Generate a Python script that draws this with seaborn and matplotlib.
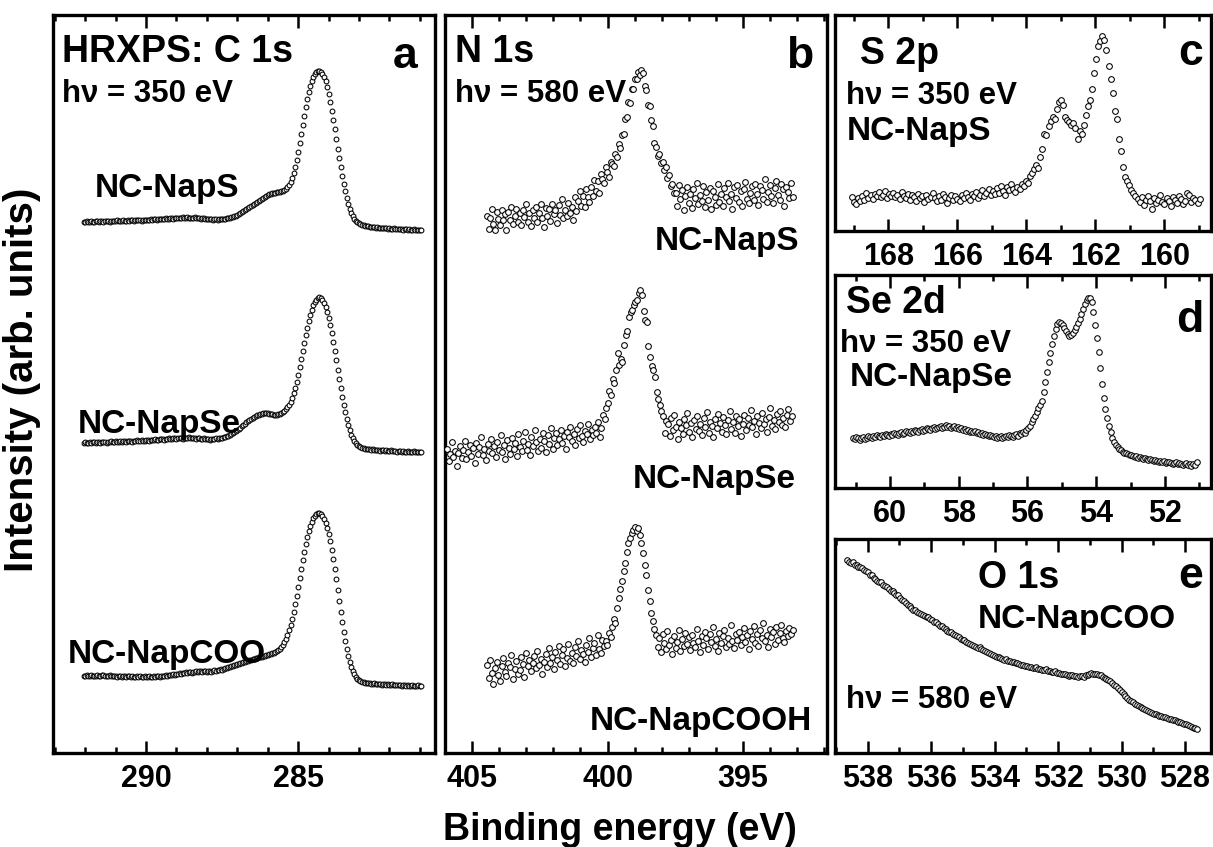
import numpy as np
import matplotlib
matplotlib.use('Agg')
import matplotlib.pyplot as plt
from matplotlib.ticker import MultipleLocator
import seaborn as sns

W, H = 1213, 847

# ---- C 1s (panel a), 292.05 -> 280.95 eV ----
c1s_range = (292.05, 280.95)
c1s_napS = [11,11,12,11,11,12,11,11,12,12, 11,12,12,11,12,12,12,11,12,12, 12,12,13,12,12,12,13,12,12,13,
            12,13,13,12,13,13,13,13,12,13, 13,13,
            13,13,14,13,14,14,13,14,14,14, 14,14,15,14,14,15,15,14,15,15, 15,15,15,16,15,15,16,15,15,15,
            15,16,15,15,15,14,15,15,14,14, 14,14,14,13,14,14,13,14,14,14, 14,14,15,15,15,16,16,17,17,
            18,19,20,21,22,23,24,25,26,27, 28,29,30,31,32,33,34,35,36,37, 38,39,39,40,40,40,41,41,41,42,
            42,43,44,46,48,
            51,55,60,66,73,81,90,99,108,117, 126,134,141,147,152,156,159,161,162,162,161,
            159,156,152,146,139,131,122,113,104,94, 84,75,66,57,49,42,35,29,24,20, 17,14,12,11,10,9,8,8,7,7,
            7,6,6,6,6,5,6,5,5,5, 5,5,5,4,5,4,4,5,4,4, 4,4,4,3,4,4,3,4,3,3, 4,3,3,3,3,3]
c1s_napSe = [10,11,10,10,11,10,11,11,10,11, 11,10,11,11,11,10,11,11,12,11, 11,12,11,11,12,11,12,12,11,12,
             12,12,11,12,12,13,12,12,13,12, 12,13,
             13,12,13,13,13,14,13,13,14,14, 14,13,14,14,15,14,14,15,15,14, 15,15,15,14,15,15,15,16,15,15,
             15,15,14,15,15,14,14,15,14,14, 14,13,14,14,14,15,14,15,15,15, 16,16,17,17,18,19,20,21,22,
             23,24,25,27,28,29,31,32,33,34, 35,36,37,38,38,39,39,40,40,40, 40,39,39,39,38,38,38,39,39,40,
             41,42,44,46,48,
             51,55,60,65,71,78,86,94,102,110, 118,125,132,138,143,148,151,153,155,156,155,
             153,150,146,141,135,128,120,111,102,93, 83,74,65,56,48,41,34,28,23,18, 15,12,10,8,7,6,5,5,4,4,
             4,4,3,4,3,3,3,3,2,3, 3,2,3,2,2,3,2,2,2,1, 2,2,1,2,1,1,2,1,1,1, 2,1,1,1,1,1]
c1s_napCOO = [12,12,13,12,12,13,12,12,12,13, 12,12,13,13,12,12,12,13,12,12, 12,12,11,12,12,11,12,12,11,12,
              12,11,12,11,11,12,11,12,11,11, 12,11,
              11,12,11,11,12,11,12,12,11,12, 12,12,13,12,13,13,13,14,13,14, 14,15,14,15,15,16,15,16,16,15,
              16,16,17,16,17,17,16,17,17,16, 17,17,16,17,18,17,18,18,19,18, 19,20,20,21,21,22,22,23,23,
              24,24,25,25,26,26,27,27,28,28, 29,29,30,30,31,31,31,32,32,33, 33,34,34,35,35,36,37,38,39,41,
              43,46,49,53,58,
              63,69,76,84,92,101,110,119,128,136, 144,151,157,162,166,170,172,174,175,175,174,
              172,169,165,160,154,147,138,129,119,109, 98,87,76,66,56,47,39,32,26,21, 17,14,11,9,8,7,6,6,5,5,
              5,5,4,4,5,4,4,4,4,3, 4,4,3,4,3,3,4,3,3,3, 3,3,2,3,3,2,3,2,2,3, 2,2,2,3,2,2]
c1s_offsets = [520, 300, 65]

# ---- N 1s (panel b) ----
n1s_napS_range = (404.45, 393.17)
n1s_napS = [17,4,15,24,9,3,21,14,8,23, 13,19,3,21,13,26,9,17,24,11, 20,8,23,16,29,11,20,7,23,15,
            26,11,20,29,15,6,25,17,24,12, 29,19,23,10,28,18,34,15,23,17, 30,20,26,13,
            36,22,32,42,27,37,26,44,36,31, 46,37,53,42,52,40,59,54,50,66, 61,56,71,69,67,79,76,89,85,98,
            99,114,116,131,130,144,144,154,154,161,158,163,
            160,147,143,128,127,113,107,90,86,77, 79,70,71,63,66,55,58,47,49,40,
            40,27,48,34,43,23,37,46,30,39, 25,44,35,50,29,38,32,47,26,41, 33,45,24,42,36,28,49,31,39,27,
            45,36,50,32,39,24,46,35,48,31, 42,27,44,51,34,30,40,47,33,49,
            39,28,47,43,34,54,31,41,48,37, 30,45,52,38,33,49,44,27,46,41, 35,50,36]
n1s_napSe_range = (405.93, 393.21)
n1s_napSe = [14,2,9,21,6,12,-3,10,17,5, 13,22,4,11,18,7,15,0,20,9, 16,26,8,14,3,19,12,24,10,17,
             6,21,13,28,11,18,4,23,15,9, 25,14,20,7,29,16,12,22,31,13, 19,8,26,17,33,21,12,24,15,30,
             22,11,28,19,35,14,25,30,18,24, 33,20,27,14,31,26,36,22,29,18, 34,25,38,27,21,32,29,39,24,33,
             28,36,30,41,26,35,
             48,44,55,60,72,68,84,80,93,110, 98,104,101,118,128,132,146,151,153,158, 161,163,170,173,168,
             152,143,141,117,106,97,93,86,71,64,58,52,47,
             30,42,39,27,45,33,48,36,24,41, 35,29,44,38,50,31,40,26,43,34, 47,32,39,28,45,36,51,30,41,37,
             26,44,35,49,40,31,46,38,29,43, 52,34,41,30,47,37,44,27,39,48, 33,45,38,53,36,42,29,47,40,35,
             50,39,44,31,46,55,37,43,34,49, 41,52,38,45,36,48,54,42,47]
n1s_napCOOH_range = (404.45, 393.17)
n1s_napCOOH = [28,15,33,20,9,25,31,18,12,27, 35,21,17,30,26,38,14,24,32,19, 23,36,29,16,40,27,33,22,30,37,
               25,42,28,34,19,31,39,26,45,30, 36,24,41,33,47,29,38,44,27,35, 49,32,40,30,46,37,52,34,43,39,
               31,48,41,55,36,45,50,38,58,44,40,53,47,
               52,48,60,56,66,74,70,85,95,104, 112,122,130,141,150,155,160,163,166,162,
               165,158,150,140,128,118,103,92,80,72,64,58,
               46,55,41,59,50,44,62,48,53,39, 57,45,51,63,42,54,47,60,49,56, 43,58,50,46,64,52,41,57,48,61,
               55,44,59,51,66,47,54,42,60,50, 57,63,46,55,49,68,52,45,59,53, 61,48,56,65,51,58,44,62,54,67,
               50,59,47,63,55,70,52,58,46,64, 56,61,49,66,53,60,68,55,51,62,57,65,59,63]
n1s_offsets = [520, 290, 60]

# ---- S 2p (panel c) ----
s2p_range = (169.06, 158.98)
s2p_napS = [34,29,27,33,30,35,31,38,33,36, 32,37,35,39,34,36,40,33,37,35, 38,34,36,32,39,35,33,37,31,36,
            34,30,37,33,35,29,36,32,34,38, 33,30,35,31,37,34,28,33,36,31, 35,32,30,36,33,38,34,31,37,35,
            39,33,36,41,35,38,42,36,40,37, 43,38,45,40,36,44,41,47,42,39,
            44,42,47,45,50,48,55,58,62,66, 63,74,82,97,96,105,110,114,112,122, 129,131,126,114,111,109,106,108,103,92,
            100,97,106,116,125,131,142,158,172,185, 190,195,191,181,165,152,138,120,112,92, 80,64,54,50,46,41,38,35,
            32,29,34,26,31,35,30,22,33,28, 31,36,29,27,33,30,25,34,31,28, 35,32,27,30,38,36,29,33,31,28,32]

# ---- Se (panel d) ----
se_range = (61.08, 51.08)
se_napSe = [50,49,51,50,48,50,51,49,50,52, 51,50,52,51,53,52,51,53,52,54, 53,52,54,53,55,54,53,55,56,54,
            55,57,56,55,57,56,58,57,56,58, 59,57,58,60,59,58,60,61,59,60, 61,62,60,61,63,61,62,60,61,62,
            60,61,59,60,58,59,57,58,56,57, 56,57,55,56,54,55,53,54,53,52, 53,52,51,52,50,51,52,50,51,52,
            51,53,52,51,53,54,52,55,54,56, 55,58,
            60,62,66,69,72,76,80,83,87,96, 106,116,126,135,144,152,159,164,166,165, 163,160,157,154,152,153,155,158,161,165,
            169,174,179,184,188,190,190,186,176,163, 150,136,120,104,90,79,70,62,56,50,46,
            43,41,39,38,36,35,35,34,33,33, 32,31,32,30,31,30,29,30,29,28, 29,28,27,28,27,26,27,26,27,25,
            26,26,25,24,25,26,24,25,24,23, 24,25,23,24,22,24,23,26]

# ---- O 1s (panel e) ----
o1s_range = (538.65, 527.61)
o1s_napCOO = [193,191,190,191,188,188,186,186,185,183, 182,181,178,178,175,174,172,171,171,168,
              167,166,164,162,162,160,158,158,155,153, 152,150,148,147,145,143,143,141,140,139,
              138,137,136,136,134,133,131,131,129,127, 127,125,124,122,121,121,119,118,117,116,
              114,113,113,111,110,109,108,107,106,105, 106,104,103,102,101,100,99,98,97,96,
              96,95,94,93,94,92,92,91,91,90, 90,89,88,88,87,87,86,86,85,85,
              86,84,84,83,83,84,82,82,81,81, 82,80,80,79,79,79,78,77,78,78,
              77,77,76,77,77,76,78,78,79,80, 79,79,79,78,78,76,75,74,73,72,
              70,68,67,65,63,61,59,57,55,53, 52,51,49,48,47,46,45,44,43,42,
              41,40,39,39,38,37,37,36,36,35, 34,34,33,33,32,31,31,30,29,29,
              28,27,26,25,25,24]


def spectrum(ax, e_range, values, offset, size):
    energy = np.linspace(e_range[0], e_range[1], len(values))
    sns.scatterplot(x=energy, y=np.array(values) + offset, ax=ax, marker='o', s=size,
                    color='white', edgecolor='black', linewidth=0.75, legend=False, zorder=3)


def style(ax, xlim, ylim, major, minor):
    ax.set_xlim(*xlim)
    ax.set_ylim(*ylim)
    ax.xaxis.set_major_locator(MultipleLocator(major))
    ax.xaxis.set_minor_locator(MultipleLocator(minor))
    ax.set_yticks([])
    ax.tick_params(axis='x', which='both', direction='in', top=True, bottom=True,
                   labelsize=22, pad=8, width=1.8, color='black', labelcolor='black')
    ax.tick_params(axis='x', which='major', length=9)
    ax.tick_params(axis='x', which='minor', length=4.5)
    for sp in ax.spines.values():
        sp.set_linewidth(2.4)
        sp.set_color('black')
    ax.set_xlabel('')
    ax.set_ylabel('')


def box(x0, y0, x1, y1):
    return [x0 / W, 1 - y1 / H, (x1 - x0) / W, (y1 - y0) / H]


def label(x, y, s, size, ha='left'):
    fig.text(x / W, 1 - y / H, s, fontsize=size, ha=ha, va='baseline', fontweight='bold', color='black')


sns.set_style('ticks')
plt.rcParams['font.family'] = ['Liberation Sans', 'DejaVu Sans']
plt.rcParams['font.weight'] = 'bold'
plt.rcParams['text.color'] = 'black'

fig = plt.figure(figsize=(W / 100, H / 100), dpi=100)

ax_a = fig.add_axes(box(53, 15, 435, 753))
ax_b = fig.add_axes(box(445, 15, 827, 753))
ax_c = fig.add_axes(box(835, 15, 1211, 231))
ax_d = fig.add_axes(box(835, 275, 1211, 488))
ax_e = fig.add_axes(box(835, 539, 1211, 753))

for vals, off in zip([c1s_napS, c1s_napSe, c1s_napCOO], c1s_offsets):
    spectrum(ax_a, c1s_range, vals, off, 12)
for rng, vals, off in zip([n1s_napS_range, n1s_napSe_range, n1s_napCOOH_range],
                          [n1s_napS, n1s_napSe, n1s_napCOOH], n1s_offsets):
    spectrum(ax_b, rng, vals, off, 17)
spectrum(ax_c, s2p_range, s2p_napS, 0, 17)
spectrum(ax_d, se_range, se_napSe, 0, 16)
spectrum(ax_e, o1s_range, o1s_napCOO, 0, 16)

style(ax_a, (293.06, 280.5), (0, 738), 5, 1)
style(ax_b, (406.0, 391.9), (0, 738), 5, 1)
style(ax_c, (169.55, 158.65), (0, 216), 2, 1)
style(ax_d, (61.6, 50.66), (0, 213), 2, 1)
style(ax_e, (539.03, 527.18), (0, 214), 2, 1)

# panel a
label(62, 62, 'HRXPS: C 1s', 27)
label(417, 68, 'a', 32, 'right')
label(62, 102, 'h\u03bd = 350 eV', 22.5)
label(95, 197, 'NC-NapS', 24)
label(78, 433, 'NC-NapSe', 24)
label(68, 663, 'NC-NapCOO', 24)
# panel b
label(455, 62, 'N 1s', 27)
label(813, 68, 'b', 32, 'right')
label(455, 102, 'h\u03bd = 580 eV', 22.5)
label(655, 250, 'NC-NapS', 24)
label(633, 488, 'NC-NapSe', 24)
label(590, 730, 'NC-NapCOOH', 24)
# panel c
label(860, 64, 'S 2p', 27)
label(1203, 65, 'c', 32, 'right')
label(846, 104, 'h\u03bd = 350 eV', 22.5)
label(847, 140, 'NC-NapS', 24)
# panel d
label(846, 313, 'Se 2d', 27)
label(1203, 332, 'd', 32, 'right')
label(840, 352, 'h\u03bd = 350 eV', 22.5)
label(850, 386, 'NC-NapSe', 24)
# panel e
label(978, 588, 'O 1s', 27)
label(1203, 588, 'e', 32, 'right')
label(978, 628, 'NC-NapCOO', 24)
label(846, 708, 'h\u03bd = 580 eV', 22.5)

fig.text(22 / W, 1 - 380 / H, 'Intensity (arb. units)', rotation=90, ha='center', va='center',
         fontsize=29, fontweight='bold', color='black')
fig.text(620 / W, 1 - 830 / H, 'Binding energy (eV)', ha='center', va='center',
         fontsize=27, fontweight='bold', color='black')

fig.savefig('out.png', dpi=100)
